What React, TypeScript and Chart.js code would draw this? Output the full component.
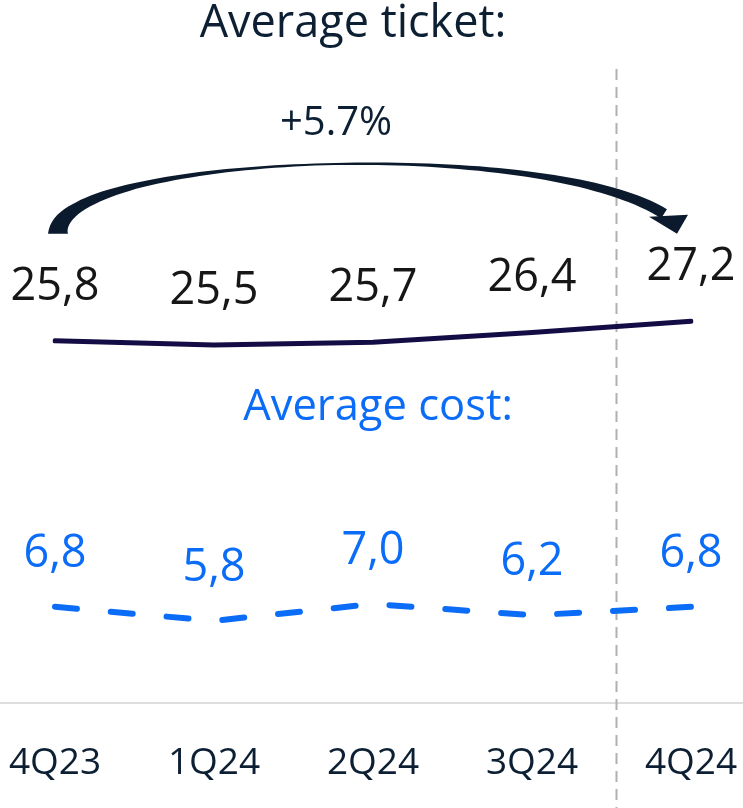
import React, { useEffect, useRef } from "react";
import { Chart, registerables } from "chart.js";

Chart.register(...registerables);

const categories = ["4Q23", "1Q24", "2Q24", "3Q24", "4Q24"];
const averageTicket = [25.8, 25.5, 25.7, 26.4, 27.2];
const averageCost = [6.8, 5.8, 7.0, 6.2, 6.8];
const ticketLabels = ["25,8", "25,5", "25,7", "26,4", "27,2"];
const costLabels = ["6,8", "5,8", "7,0", "6,2", "6,8"];
const ticketTitle = "Average ticket:";
const costTitle = "Average cost:";
const changeLabel = "+5.7%";
const dividerIndex = 3.53;

const FONT = '"Open Sans", "Noto Sans", sans-serif';
const NAVY = "#0c1f33";
const LINE_NAVY = "#140d45";
const BLUE = "#0a6cf7";

function cubic(p0: number, p1: number, p2: number, p3: number, t: number) {
  const u = 1 - t;
  return u * u * u * p0 + 3 * u * u * t * p1 + 3 * u * t * t * p2 + t * t * t * p3;
}

const overlayPlugin = {
  id: "overlay",
  beforeDatasetsDraw(chart: any) {
    const { ctx, chartArea, scales } = chart;
    const W = chart.width;
    const H = chart.height;
    ctx.save();
    ctx.strokeStyle = "#dddddd";
    ctx.lineWidth = 2;
    ctx.beginPath();
    ctx.moveTo(0, chartArea.bottom + 1);
    ctx.lineTo(W, chartArea.bottom + 1);
    ctx.stroke();
    const dx = Math.round(scales.x.getPixelForValue(dividerIndex)) + 0.5;
    ctx.strokeStyle = "#b0b0b0";
    ctx.lineWidth = 2;
    ctx.setLineDash([11, 7]);
    ctx.beginPath();
    ctx.moveTo(dx, 69);
    ctx.lineTo(dx, H);
    ctx.stroke();
    ctx.restore();
  },
  afterDatasetsDraw(chart: any) {
    const { ctx } = chart;
    ctx.save();
    ctx.textAlign = "center";
    ctx.textBaseline = "alphabetic";

    ctx.fillStyle = NAVY;
    ctx.font = `500 45px ${FONT}`;
    ctx.fillText(ticketTitle, 353, 37);
    ctx.fillStyle = BLUE;
    ctx.font = `500 43.5px ${FONT}`;
    ctx.fillText(costTitle, 378, 420);

    const m0 = chart.getDatasetMeta(0);
    const m1 = chart.getDatasetMeta(1);
    ctx.font = `400 45px ${FONT}`;
    ctx.fillStyle = "#161616";
    m0.data.forEach((p: any, i: number) => ctx.fillText(ticketLabels[i], p.x, p.y - 41));
    ctx.fillStyle = BLUE;
    m1.data.forEach((p: any, i: number) => ctx.fillText(costLabels[i], p.x, p.y - 40));

    const a = m0.data[0];
    const b = m0.data[m0.data.length - 1];
    const baseY = a.y - 107;
    const P0 = [a.x + 3, baseY];
    const P1 = [a.x + 3, baseY - 80];
    const P2 = [b.x - 150, baseY - 98];
    const P3 = [b.x - 27, baseY - 20];
    const widthAt = (t: number) => {
      const pts = [
        [0, 20], [0.12, 11], [0.25, 6], [0.4, 3], [0.5, 2], [0.62, 3], [0.78, 6], [0.9, 9], [1, 11],
      ];
      for (let k = 1; k < pts.length; k++) {
        if (t <= pts[k][0]) {
          const f = (t - pts[k - 1][0]) / (pts[k][0] - pts[k - 1][0]);
          return pts[k - 1][1] + f * (pts[k][1] - pts[k - 1][1]);
        }
      }
      return 11;
    };
    const N = 80;
    const left: number[][] = [];
    const right: number[][] = [];
    for (let i = 0; i <= N; i++) {
      const t = i / N;
      const x = cubic(P0[0], P1[0], P2[0], P3[0], t);
      const y = cubic(P0[1], P1[1], P2[1], P3[1], t);
      const e = 0.001;
      const t2 = Math.min(1, t + e);
      const t1 = Math.max(0, t - e);
      const tx = cubic(P0[0], P1[0], P2[0], P3[0], t2) - cubic(P0[0], P1[0], P2[0], P3[0], t1);
      const ty = cubic(P0[1], P1[1], P2[1], P3[1], t2) - cubic(P0[1], P1[1], P2[1], P3[1], t1);
      const len = Math.hypot(tx, ty) || 1;
      const nx = -ty / len;
      const ny = tx / len;
      const w = widthAt(t) / 2;
      left.push([x + nx * w, y + ny * w]);
      right.push([x - nx * w, y - ny * w]);
    }
    ctx.fillStyle = "#0b1a2c";
    ctx.beginPath();
    ctx.moveTo(left[0][0], left[0][1]);
    for (let i = 1; i < left.length; i++) ctx.lineTo(left[i][0], left[i][1]);
    for (let i = right.length - 1; i >= 0; i--) ctx.lineTo(right[i][0], right[i][1]);
    ctx.closePath();
    ctx.fill();
    ctx.beginPath();
    ctx.moveTo(b.x - 14, baseY);
    ctx.lineTo(b.x - 42, baseY - 17);
    ctx.lineTo(b.x - 3, baseY - 19);
    ctx.closePath();
    ctx.fill();

    ctx.fillStyle = NAVY;
    ctx.font = `400 40px ${FONT}`;
    ctx.fillText(changeLabel, 336, 135);
    ctx.restore();
  },
};

export default function App() {
  const ref = useRef<HTMLCanvasElement | null>(null);
  useEffect(() => {
    document.body.style.margin = "0";
    document.body.style.overflow = "hidden";
    const chart = new Chart(ref.current as HTMLCanvasElement, {
      type: "line",
      data: {
        labels: categories,
        datasets: [
          {
            data: averageTicket,
            borderColor: LINE_NAVY,
            borderWidth: 5,
            pointRadius: 0,
            tension: 0,
            borderCapStyle: "round",
          },
          {
            data: averageCost,
            borderColor: BLUE,
            borderWidth: 6,
            borderDash: [22, 34],
            borderCapStyle: "round",
            pointRadius: 0,
            tension: 0,
          },
        ],
      },
      options: {
        responsive: false,
        animation: false,
        devicePixelRatio: 1,
        layout: { padding: { left: 55, right: 52, top: 2, bottom: 0 } },
        plugins: { legend: { display: false }, tooltip: { enabled: false } },
        scales: {
          x: {
            type: "category",
            offset: false,
            grid: { display: false, drawTicks: false },
            border: { display: false },
            ticks: {
              color: NAVY,
              font: { family: FONT, size: 37, weight: "500" },
              padding: 39,
              maxRotation: 0,
              autoSkip: false,
            },
            afterFit: (s: any) => {
              s.height = 106;
              s.paddingLeft = 0;
              s.paddingRight = 0;
            },
          },
          y: { display: false, min: 0, max: 50 },
        },
      },
      plugins: [overlayPlugin],
    } as any);
    return () => chart.destroy();
  }, []);
  return <canvas ref={ref} width={743} height={808} style={{ display: "block" }} />;
}
